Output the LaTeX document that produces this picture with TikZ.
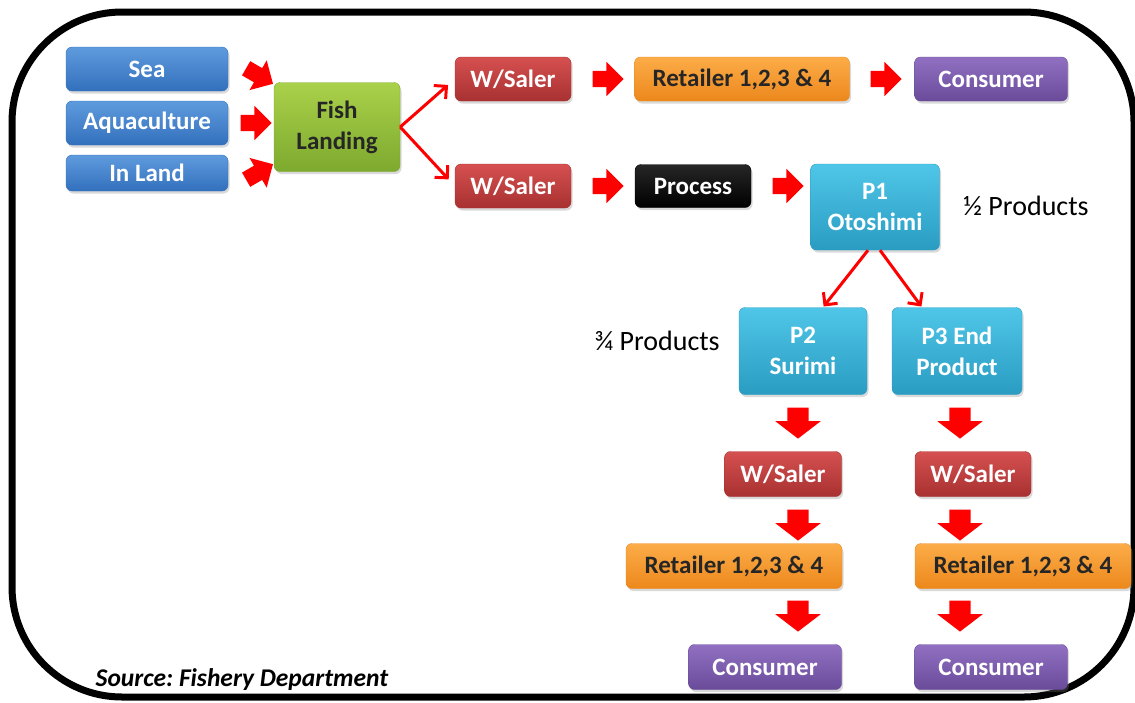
\documentclass[tikz,border=0pt]{standalone}
\usepackage{fontspec}
\setmainfont{Carlito}
\usetikzlibrary{shapes.arrows,shadows,arrows.meta}
\definecolor{bluetop}{HTML}{5E9BDD}
\definecolor{bluebot}{HTML}{3370BD}
\definecolor{greentop}{HTML}{AAD14A}
\definecolor{greenbot}{HTML}{7DA92E}
\definecolor{redtop}{HTML}{D65050}
\definecolor{redbot}{HTML}{A83131}
\definecolor{orangetop}{HTML}{FCAC48}
\definecolor{orangebot}{HTML}{EC881C}
\definecolor{purpletop}{HTML}{9170C2}
\definecolor{purplebot}{HTML}{6A4B9A}
\definecolor{cyantop}{HTML}{4FC6E8}
\definecolor{cyanbot}{HTML}{2A9CC2}
\definecolor{darktext}{HTML}{262626}
\frenchspacing
\begin{document}
\begin{tikzpicture}[x=1pt,y=-1pt,
  box/.style={rounded corners=6pt, inner sep=0pt, align=center, text=white,
    font=\fontsize{25}{31}\selectfont\bfseries,
    drop shadow={opacity=0.3, shadow xshift=1.5pt, shadow yshift=-2.5pt}},
  bluebox/.style={box, top color=bluetop, bottom color=bluebot, draw=bluebot,
    minimum width=162pt, minimum height=44pt},
  greenbox/.style={box, top color=greentop, bottom color=greenbot, draw=greenbot,
    text=darktext, minimum width=126pt, minimum height=89pt},
  redbox/.style={box, top color=redtop, bottom color=redbot, draw=redbot,
    minimum width=116pt, minimum height=44pt},
  orangebox/.style={box, top color=orangetop, bottom color=orangebot, draw=orangebot,
    text=darktext, minimum width=216pt, minimum height=44pt},
  purplebox/.style={box, top color=purpletop, bottom color=purplebot, draw=purplebot,
    minimum width=153pt, minimum height=44pt},
  blackbox/.style={box, top color=black!85, bottom color=black, draw=black,
    minimum width=116pt, minimum height=43pt},
  cyanbox/.style={box, top color=cyantop, bottom color=cyanbot, draw=cyanbot,
    minimum width=129pt, minimum height=87pt},
  flow/.style={single arrow, fill=red, draw=none, inner xsep=0pt, inner ysep=8pt,
    minimum height=31pt, single arrow head extend=9pt,
    single arrow tip angle=90},
  flowdown/.style={flow, inner ysep=10.5pt, single arrow head extend=12pt,
    single arrow tip angle=105, rotate=-90},
  thinarrow/.style={draw=red, line width=3pt,
    -{Straight Barb[length=9pt,width=18pt]}}
]
\useasboundingbox (0,0) rectangle (1135,702);
\draw[line width=7pt, rounded corners=110pt] (12,12) rectangle (1134,697);

% sources
\node[bluebox] (sea) at (147,69) {Sea};
\node[bluebox] (aqua) at (147,123) {Aquaculture};
\node[bluebox, minimum height=36pt] (inland) at (147,173) {In Land};
\node[greenbox] (fish) at (337,127) {Fish\\Landing};
\node[flow, rotate=-30] (fa1) at (256,74) {};
\node[flow] (fa2) at (252,123) {};
\node[flow, rotate=30] (fa3) at (256,174) {};

% fresh fish chain
\node[redbox] (ws1) at (513,79) {W/Saler};
\node[orangebox, minimum width=215pt] (ret1) at (742,79) {Retailer 1,2,3 \& 4};
\node[purplebox] (con1) at (991,79) {Consumer};
\node[flow] (ta1) at (604,79) {};
\node[flow] (ta2) at (882,79) {};

% processing chain
\node[redbox] (ws2) at (513,186) {W/Saler};
\node[blackbox] (proc) at (693,186) {Process};
\node[cyanbox, minimum height=86pt] (p1) at (875,207) {P1\\Otoshimi};
\node[flow] (ba1) at (604,186) {};
\node[flow] (ba2) at (784,186) {};
\node[font=\fontsize{28}{32}\selectfont] (half) at (1026,206) {½ Products};

\draw[thinarrow, shorten >=9pt] (fish.east) -- (ws1.west);
\draw[thinarrow, shorten >=9pt] (fish.east) -- (ws2.west);

\node[cyanbox, minimum width=128pt] (p2) at (803,351) {P2\\Surimi};
\node[cyanbox, minimum width=130pt] (p3) at (957,351) {P3 End\\Product};
\node[font=\fontsize{28}{32}\selectfont] (threeq) at (657,341) {¾ Products};
\draw[thinarrow, shorten >=1pt] ([xshift=-7pt]p1.south) -- ([xshift=20pt]p2.north);
\draw[thinarrow, shorten >=1pt] ([xshift=5pt]p1.south) -- ([xshift=-35pt]p3.north);

% down the columns
\node[redbox, minimum width=117pt, minimum height=45pt] (ws3) at (783,474) {W/Saler};
\node[redbox, minimum height=45pt] (ws4) at (973,474) {W/Saler};
\node[orangebox, minimum height=45pt] (ret2) at (734,566) {Retailer 1,2,3 \& 4};
\node[orangebox, minimum height=45pt] (ret3) at (1023,566) {Retailer 1,2,3 \& 4};
\node[purplebox, minimum height=45pt] (con2) at (765,667) {Consumer};
\node[purplebox, minimum height=45pt] (con3) at (991,667) {Consumer};
\node[flowdown] (da1) at (798,419) {};
\node[flowdown] (da2) at (798,521) {};
\node[flowdown] (da3) at (798,612) {};
\node[flowdown] (db1) at (960,419) {};
\node[flowdown] (db2) at (960,521) {};
\node[flowdown] (db3) at (960,612) {};

\node[font=\fontsize{25.5}{28}\selectfont\bfseries\itshape] (src) at (242,680)
  {Source: Fishery Department};
\end{tikzpicture}
\end{document}
